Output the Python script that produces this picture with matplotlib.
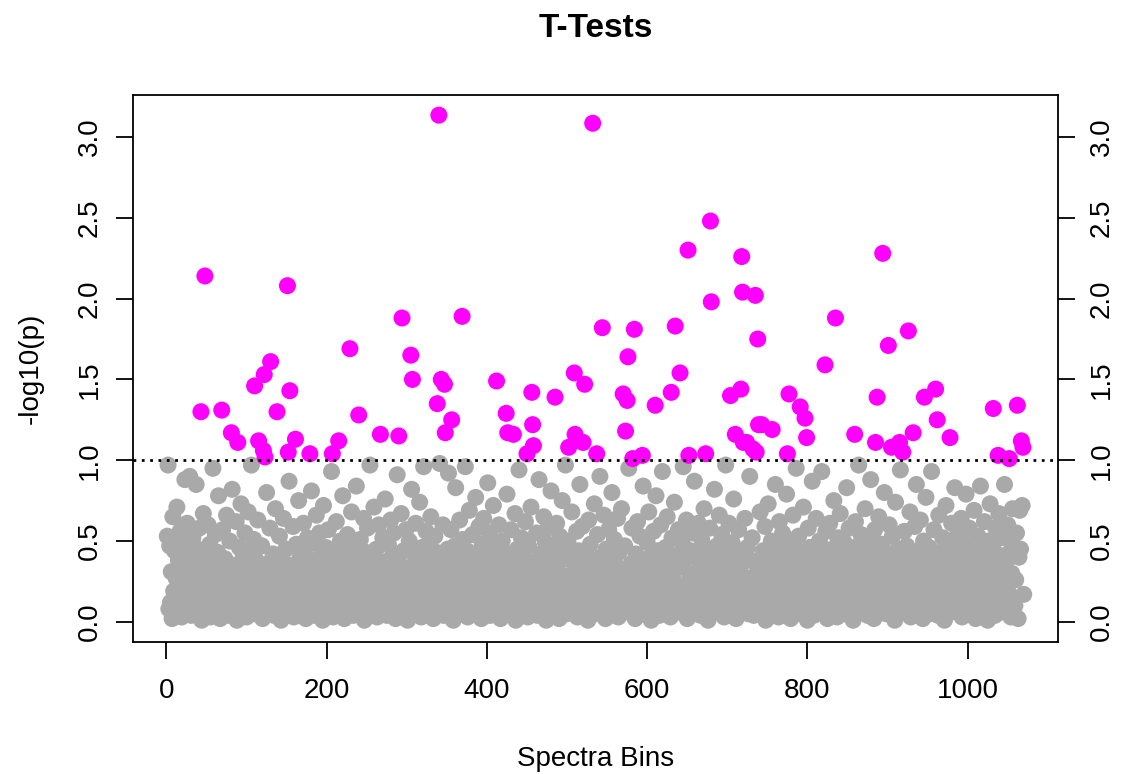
import numpy as np
import matplotlib
matplotlib.use("Agg")
import matplotlib.pyplot as plt

plt.rcParams['font.family'] = ['Liberation Sans', 'DejaVu Sans']

# bins that pass the cut-off (-log10(p) > 1)
mag_x = [43, 48, 69, 81, 89, 110, 115, 121, 122, 123, 130, 138, 151, 152, 154, 161, 179,
         207, 215, 229, 240, 267, 290, 294, 305, 307, 338, 340, 343, 347, 348, 356, 369,
         412, 424, 426, 433, 450, 456, 457, 458, 485, 502, 509, 510, 520, 522, 532, 537,
         544, 570, 573, 575, 576, 582, 584, 594, 610, 630, 635, 641, 651, 652, 673, 679,
         680, 704, 710, 717, 718, 719, 720, 724, 732, 735, 736, 738, 739, 743, 756, 775,
         777, 791, 797, 799, 822, 835, 859, 885, 887, 894, 901, 905, 915, 919, 926, 932,
         946, 960, 962, 978, 1032, 1038, 1052, 1062, 1067, 1069]
mag_y = [1.30, 2.14, 1.31, 1.17, 1.11, 1.46, 1.12, 1.06, 1.53, 1.02, 1.61, 1.30, 2.08, 1.05, 1.43, 1.13, 1.04,
         1.04, 1.12, 1.69, 1.28, 1.16, 1.15, 1.88, 1.65, 1.50, 1.35, 3.135, 1.50, 1.47, 1.17, 1.25, 1.89,
         1.49, 1.29, 1.17, 1.16, 1.04, 1.42, 1.22, 1.09, 1.39, 1.08, 1.54, 1.16, 1.11, 1.47, 3.085, 1.04,
         1.82, 1.41, 1.18, 1.37, 1.64, 1.01, 1.81, 1.03, 1.34, 1.42, 1.83, 1.54, 2.30, 1.03, 1.04, 2.48,
         1.98, 1.40, 1.16, 1.44, 2.26, 2.04, 1.11, 1.11, 1.07, 2.02, 1.05, 1.75, 1.22, 1.22, 1.19, 1.04,
         1.41, 1.33, 1.26, 1.14, 1.59, 1.88, 1.16, 1.11, 1.39, 2.28, 1.71, 1.08, 1.11, 1.05, 1.80, 1.17,
         1.39, 1.44, 1.25, 1.14, 1.32, 1.03, 1.01, 1.34, 1.12, 1.08]

# the remaining bins (in order), all below the cut-off - estimated by eye
gray_y = [
    0.53, 0.97, 0.08, 0.47, 0.12, 0.31, 0.02, 0.65, 0.19, 0.44, 0.05, 0.27, 0.71, 0.14, 0.38, 0.09, 0.56, 0.22, 0.03, 0.49,
    0.16, 0.34, 0.88, 0.06, 0.25, 0.61, 0.11, 0.42, 0.90, 0.18, 0.04, 0.29, 0.52, 0.13, 0.36, 0.07, 0.85, 0.21, 0.45, 0.10,
    0.58, 0.24, 0.01, 0.33, 0.67, 0.15, 0.40, 0.08, 0.26, 0.60, 0.12, 0.48, 0.03, 0.20, 0.37, 0.95, 0.17, 0.06, 0.54, 0.28,
    0.09, 0.43, 0.78, 0.14, 0.02, 0.32, 0.57, 0.19, 0.05, 0.39, 0.23, 0.66, 0.11, 0.30, 0.04, 0.50, 0.16, 0.82, 0.27, 0.07,
    0.35, 0.13, 0.62, 0.01, 0.24, 0.46, 0.18, 0.73, 0.08, 0.29, 0.41, 0.10, 0.55, 0.21, 0.03, 0.34, 0.68, 0.15, 0.06, 0.44,
    0.97, 0.26, 0.12, 0.51, 0.05, 0.38, 0.20, 0.63, 0.09, 0.31, 0.17, 0.47, 0.02, 0.25, 0.80, 0.14, 0.36, 0.07, 0.58, 0.22,
    0.11, 0.42, 0.04, 0.28, 0.70, 0.16, 0.33, 0.09, 0.53, 0.19, 0.01, 0.39, 0.24, 0.64, 0.13, 0.06, 0.45, 0.30, 0.87, 0.18,
    0.08, 0.35, 0.59, 0.03, 0.22, 0.48, 0.12, 0.27, 0.75, 0.15, 0.40, 0.05, 0.32, 0.20, 0.61, 0.10, 0.43, 0.02, 0.26, 0.52,
    0.17, 0.07, 0.37, 0.81, 0.23, 0.13, 0.49, 0.04, 0.29, 0.66, 0.11, 0.34, 0.19, 0.55, 0.08, 0.41, 0.25, 0.01, 0.72, 0.14,
    0.31, 0.46, 0.06, 0.21, 0.57, 0.10, 0.38, 0.16, 0.93, 0.03, 0.27, 0.44, 0.12, 0.62, 0.20, 0.05, 0.35, 0.50, 0.09, 0.24,
    0.78, 0.15, 0.02, 0.42, 0.28, 0.11, 0.54, 0.18, 0.33, 0.07, 0.68, 0.23, 0.04, 0.47, 0.13, 0.39, 0.84, 0.19, 0.30, 0.06,
    0.51, 0.10, 0.36, 0.22, 0.64, 0.01, 0.26, 0.43, 0.14, 0.58, 0.08, 0.32, 0.97, 0.17, 0.05, 0.40, 0.25, 0.71, 0.12, 0.29,
    0.45, 0.03, 0.20, 0.60, 0.15, 0.37, 0.09, 0.52, 0.27, 0.11, 0.76, 0.21, 0.04, 0.34, 0.48, 0.16, 0.06, 0.63, 0.24, 0.41,
    0.13, 0.55, 0.30, 0.02, 0.18, 0.91, 0.39, 0.10, 0.26, 0.67, 0.07, 0.44, 0.19, 0.33, 0.57, 0.12, 0.01, 0.28, 0.50, 0.22,
    0.82, 0.14, 0.36, 0.05, 0.61, 0.23, 0.42, 0.09, 0.17, 0.74, 0.31, 0.03, 0.46, 0.20, 0.96, 0.11, 0.38, 0.56, 0.15, 0.27,
    0.06, 0.49, 0.21, 0.65, 0.12, 0.35, 0.02, 0.25, 0.53, 0.16, 0.43, 0.08, 0.98, 0.30, 0.18, 0.60, 0.04, 0.37, 0.13, 0.45,
    0.92, 0.24, 0.10, 0.57, 0.32, 0.01, 0.19, 0.47, 0.83, 0.14, 0.40, 0.06, 0.28, 0.63, 0.22, 0.11, 0.51, 0.35, 0.07, 0.96,
    0.17, 0.44, 0.03, 0.26, 0.69, 0.12, 0.38, 0.20, 0.54, 0.08, 0.31, 0.15, 0.77, 0.42, 0.05, 0.23, 0.59, 0.10, 0.34, 0.02,
    0.48, 0.18, 0.64, 0.27, 0.09, 0.39, 0.13, 0.86, 0.21, 0.55, 0.04, 0.33, 0.16, 0.46, 0.72, 0.07, 0.29, 0.11, 0.41, 0.24,
    0.60, 0.14, 0.02, 0.36, 0.50, 0.19, 0.08, 0.43, 0.26, 0.79, 0.12, 0.31, 0.05, 0.57, 0.22, 0.38, 0.15, 0.67, 0.01, 0.28,
    0.45, 0.10, 0.94, 0.33, 0.17, 0.52, 0.06, 0.25, 0.40, 0.13, 0.62, 0.20, 0.03, 0.47, 0.30, 0.09, 0.71, 0.16, 0.37, 0.23,
    0.55, 0.04, 0.28, 0.88, 0.12, 0.42, 0.19, 0.07, 0.35, 0.65, 0.14, 0.49, 0.01, 0.26, 0.58, 0.21, 0.10, 0.39, 0.81, 0.17,
    0.32, 0.06, 0.46, 0.24, 0.61, 0.11, 0.36, 0.02, 0.53, 0.18, 0.29, 0.75, 0.08, 0.43, 0.15, 0.97, 0.27, 0.05, 0.50, 0.20,
    0.13, 0.38, 0.68, 0.09, 0.30, 0.16, 0.56, 0.03, 0.44, 0.22, 0.85, 0.12, 0.34, 0.59, 0.07, 0.25, 0.41, 0.18, 0.01, 0.63,
    0.27, 0.48, 0.10, 0.37, 0.19, 0.73, 0.05, 0.31, 0.54, 0.14, 0.23, 0.90, 0.40, 0.08, 0.28, 0.66, 0.17, 0.02, 0.45, 0.33,
    0.12, 0.57, 0.21, 0.04, 0.39, 0.80, 0.15, 0.26, 0.51, 0.09, 0.35, 0.18, 0.64, 0.03, 0.43, 0.24, 0.11, 0.70, 0.30, 0.06,
    0.47, 0.16, 0.95, 0.29, 0.10, 0.36, 0.58, 0.20, 0.02, 0.42, 0.13, 0.62, 0.25, 0.07, 0.53, 0.32, 0.19, 0.84, 0.11, 0.38,
    0.05, 0.27, 0.49, 0.14, 0.68, 0.22, 0.40, 0.01, 0.33, 0.17, 0.56, 0.09, 0.78, 0.26, 0.44, 0.12, 0.04, 0.35, 0.60, 0.20,
    0.93, 0.15, 0.31, 0.07, 0.46, 0.24, 0.65, 0.10, 0.37, 0.19, 0.03, 0.52, 0.28, 0.13, 0.74, 0.41, 0.06, 0.22, 0.57, 0.16,
    0.34, 0.08, 0.48, 0.96, 0.21, 0.12, 0.39, 0.63, 0.02, 0.27, 0.44, 0.17, 0.55, 0.09, 0.30, 0.87, 0.14, 0.05, 0.42, 0.25,
    0.61, 0.18, 0.36, 0.04, 0.51, 0.23, 0.11, 0.70, 0.32, 0.15, 0.45, 0.01, 0.26, 0.58, 0.19, 0.08, 0.40, 0.82, 0.13, 0.29,
    0.47, 0.06, 0.21, 0.66, 0.35, 0.10, 0.54, 0.16, 0.28, 0.03, 0.43, 0.97, 0.20, 0.12, 0.37, 0.61, 0.07, 0.25, 0.49, 0.14,
    0.76, 0.30, 0.02, 0.41, 0.18, 0.57, 0.09, 0.33, 0.23, 0.64, 0.11, 0.46, 0.05, 0.27, 0.90, 0.16, 0.38, 0.52, 0.04, 0.22,
    0.35, 0.13, 0.68, 0.26, 0.08, 0.44, 0.19, 0.59, 0.01, 0.31, 0.15, 0.73, 0.40, 0.10, 0.24, 0.50, 0.06, 0.36, 0.17, 0.85,
    0.28, 0.12, 0.47, 0.03, 0.62, 0.21, 0.34, 0.09, 0.55, 0.18, 0.42, 0.27, 0.07, 0.79, 0.14, 0.32, 0.02, 0.48, 0.23, 0.66,
    0.11, 0.39, 0.20, 0.95, 0.05, 0.30, 0.53, 0.15, 0.43, 0.08, 0.25, 0.71, 0.13, 0.37, 0.01, 0.58, 0.22, 0.46, 0.10, 0.33,
    0.87, 0.17, 0.04, 0.41, 0.26, 0.64, 0.12, 0.35, 0.19, 0.50, 0.06, 0.29, 0.93, 0.16, 0.44, 0.09, 0.56, 0.24, 0.02, 0.38,
    0.14, 0.61, 0.31, 0.07, 0.45, 0.21, 0.75, 0.11, 0.36, 0.03, 0.52, 0.27, 0.18, 0.67, 0.10, 0.40, 0.23, 0.05, 0.49, 0.32,
    0.20, 0.83, 0.13, 0.37, 0.58, 0.08, 0.28, 0.43, 0.16, 0.01, 0.34, 0.62, 0.22, 0.12, 0.47, 0.97, 0.06, 0.30, 0.54, 0.17,
    0.41, 0.09, 0.25, 0.70, 0.15, 0.36, 0.04, 0.51, 0.19, 0.29, 0.88, 0.11, 0.44, 0.24, 0.02, 0.57, 0.33, 0.14, 0.65, 0.07,
    0.38, 0.21, 0.48, 0.12, 0.80, 0.27, 0.05, 0.42, 0.16, 0.60, 0.31, 0.09, 0.53, 0.18, 0.35, 0.01, 0.74, 0.23, 0.13, 0.45,
    0.28, 0.94, 0.10, 0.39, 0.19, 0.56, 0.06, 0.33, 0.47, 0.15, 0.25, 0.68, 0.03, 0.40, 0.21, 0.11, 0.59, 0.30, 0.85, 0.17,
    0.08, 0.44, 0.26, 0.63, 0.13, 0.36, 0.02, 0.50, 0.22, 0.77, 0.10, 0.32, 0.18, 0.46, 0.05, 0.27, 0.93, 0.15, 0.41, 0.57,
    0.12, 0.34, 0.04, 0.66, 0.24, 0.43, 0.09, 0.29, 0.52, 0.17, 0.01, 0.38, 0.72, 0.20, 0.11, 0.48, 0.31, 0.06, 0.61, 0.26,
    0.45, 0.14, 0.83, 0.35, 0.07, 0.23, 0.55, 0.12, 0.40, 0.19, 0.64, 0.03, 0.30, 0.49, 0.16, 0.25, 0.79, 0.08, 0.37, 0.21,
    0.58, 0.10, 0.33, 0.05, 0.46, 0.27, 0.69, 0.15, 0.02, 0.42, 0.20, 0.53, 0.11, 0.36, 0.84, 0.18, 0.07, 0.44, 0.28, 0.62,
    0.13, 0.39, 0.22, 0.01, 0.50, 0.16, 0.73, 0.31, 0.09, 0.47, 0.25, 0.04, 0.58, 0.34, 0.14, 0.67, 0.19, 0.41, 0.06, 0.29,
    0.52, 0.12, 0.85, 0.24, 0.37, 0.08, 0.60, 0.18, 0.43, 0.03, 0.30, 0.70, 0.15, 0.46, 0.10, 0.26, 0.55, 0.02, 0.40, 0.69,
    0.45, 0.72, 0.17,
]

cutoff = 1.0
x_ticks = [0, 200, 400, 600, 800, 1000]
y_ticks = [0.0, 0.5, 1.0, 1.5, 2.0, 2.5, 3.0]

# put both groups back into bin order (R draws them in index order)
n_bins = len(mag_x) + len(gray_y)
mag_lookup = dict(zip(mag_x, mag_y))
gray_iter = iter(gray_y)
bins, vals, cols = [], [], []
for b in range(1, n_bins + 1):
    bins.append(b)
    if b in mag_lookup:
        vals.append(mag_lookup[b])
        cols.append('#FF00FF')
    else:
        vals.append(next(gray_iter, 0.3))
        cols.append('#A9A9A9')

fig = plt.figure(figsize=(11.24, 7.74), dpi=100)
ax = fig.add_axes([0.1183, 0.1705, 0.8230, 0.7068])

ax.scatter(bins, vals, c=cols, s=150, linewidths=0, zorder=3)
ax.axhline(cutoff, color='black', linestyle=(0, (1, 2)), linewidth=2, zorder=4)

# R-ish axis ranges (4% padding)
ax.set_xlim(-41.8, 1112.8)
ax.set_ylim(-0.125, 3.26)
ax.set_xticks(x_ticks)
ax.set_xticklabels([str(t) for t in x_ticks])
ax.set_yticks(y_ticks)
ax.set_yticklabels(['%.1f' % t for t in y_ticks])

for s in ax.spines.values():
    s.set_linewidth(1.3)
ax.tick_params(axis='both', direction='out', length=12, width=1.3, labelsize=20)
ax.tick_params(axis='x', pad=14)
ax.tick_params(axis='y', right=True, labelright=True, labelrotation=90, pad=10)
for lab in ax.get_yticklabels(which='both'):
    lab.set_va('center')
for t in ax.yaxis.get_major_ticks():
    t.label1.set_va('center')
    t.label2.set_va('center')

fig.text(0.5298, 0.9638, 'T-Tests', ha='center', va='center', fontsize=24, fontweight='bold')
fig.text(0.5298, 0.020, 'Spectra Bins', ha='center', va='center', fontsize=20)
fig.text(0.0276, 0.524, '-log10(p)', ha='center', va='center', rotation=90, fontsize=20)

plt.savefig('out.png', dpi=100)
